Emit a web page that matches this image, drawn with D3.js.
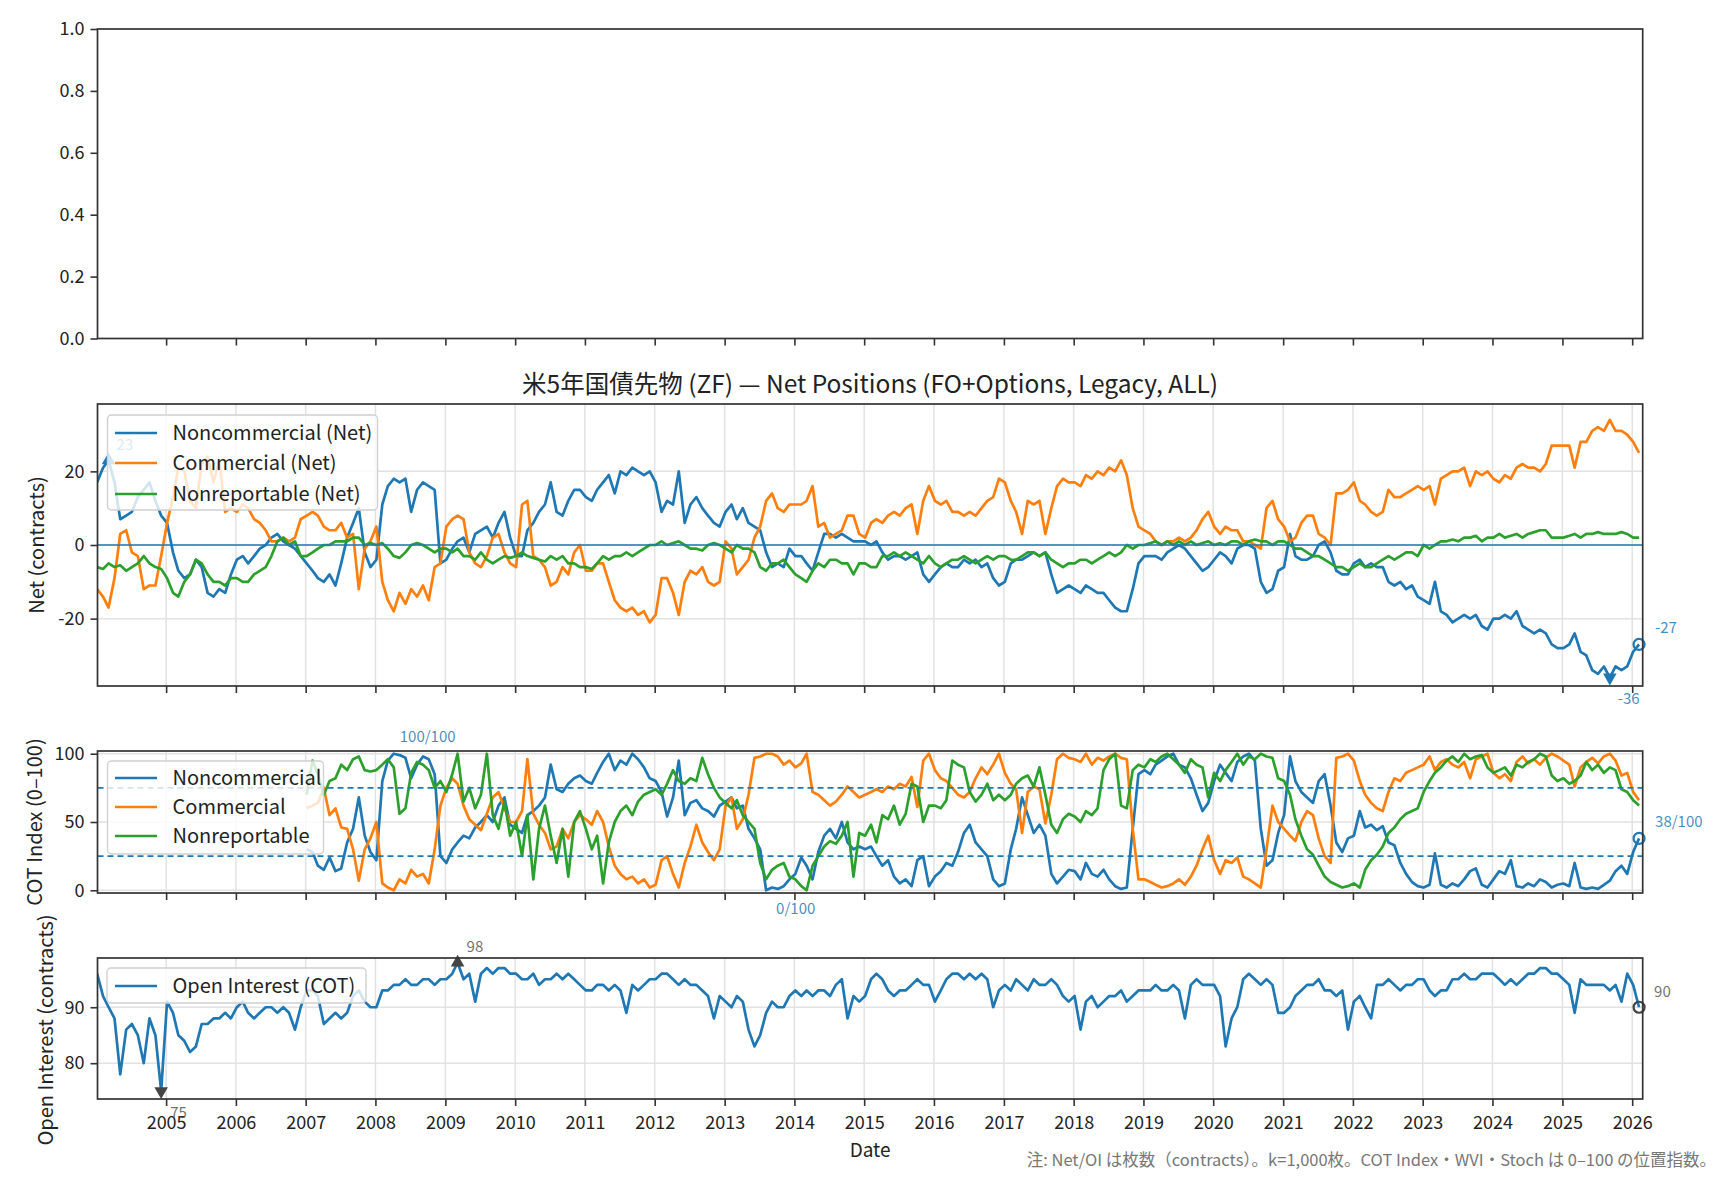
<!DOCTYPE html>
<html>
<head>
<meta charset="utf-8">
<script src="https://cdn.jsdelivr.net/npm/d3@7"></script>
<style>
  body { margin: 0; background: #fff; }
  svg { display: block; }
</style>
</head>
<body>
<script>
// monthly readings, Jan 2004 .. Feb 2026 (thousand contracts)
var nonCommNet = [
  17, 21, 23, 17, 7, 8, 9, 13, 15, 17, 12, 8,
  6, -2, -7, -9, -8, -4, -6, -13, -14, -12, -13, -8,
  -4, -3, -5, -3, -1, 0, 2, 3, 1, 0, -1, -3,
  -5, -7, -9, -10, -8, -11, -5, 2, 6, 10, -2, -6,
  -4, 11, 16, 18, 17, 18, 9, 15, 17, 16, 15, -5,
  -4, -1, 1, 2, -2, 3, 4, 5, 2, 6, 9, 2,
  -3, -3, 4, 6, 9, 11, 17, 9, 8, 12, 15, 15,
  13, 12, 15, 17, 19, 14, 20, 19, 21, 20, 19, 20,
  17, 9, 12, 11, 20, 6, 11, 13, 10, 8, 6, 5,
  9, 11, 7, 10, 6, 5, 4, -2, -6, -5, -6, -1,
  -3, -3, -5, -7, -2, 3, 3, 2, 3, 2, 1, 1,
  1, 0, 1, -2, -4, -3, -3, -4, -3, -2, -8, -10,
  -8, -6, -5, -6, -6, -4, -5, -4, -6, -5, -9, -11,
  -10, -5, -4, -4, -3, -2, -3, -2, -8, -13, -12, -11,
  -12, -13, -11, -12, -13, -13, -15, -17, -18, -18, -12, -5,
  -3, -3, -3, -4, -2, -1, 0, -1, -3, -5, -7, -6,
  -4, -2, -3, -5, -1, 0, 0, -1, -10, -13, -12, -7,
  -6, 3, -3, -4, -4, -3, 0, 1, -2, -7, -8, -8,
  -5, -4, -6, -5, -6, -6, -10, -11, -10, -12, -11, -14,
  -15, -16, -10, -18, -19, -21, -20, -19, -20, -19, -22, -23,
  -20, -20, -19, -20, -18, -22, -23, -24, -23, -24, -27, -28,
  -28, -27, -24, -29, -30, -34, -35, -33, -36, -33, -34, -33,
  -29, -27
];
var commNet = [
  -12, -14, -17, -9, 3, 4, -2, -3, -12, -11, -11, -3,
  6, 13, 21, 20, 12, 10, 22, 24, 17, 23, 9, 10,
  9, 11, 10, 7, 6, 4, 1, 1, 2, 1, 2, 7,
  8, 9, 8, 5, 4, 4, 6, 2, 3, -12, -1, 1,
  5, -10, -15, -18, -13, -16, -12, -14, -11, -15, -6, -5,
  5, 7, 8, 7, -2, -5, -6, -3, 2, 3, -2, -5,
  -6, 11, 12, -3, -4, -6, -11, -10, -6, -8, -2, 0,
  -7, -7, -5, -5, -10, -15, -17, -18, -17, -19, -18, -21,
  -19, -9, -9, -13, -19, -10, -7, -8, -6, -10, -11, -10,
  1, -1, -8, -6, -4, 2, 5, 12, 14, 10, 9, 11,
  11, 11, 12, 16, 5, 6, 2, 3, 4, 8, 8, 3,
  2, 6, 7, 6, 8, 9, 8, 10, 11, 3, 12, 16,
  12, 11, 12, 9, 9, 8, 9, 8, 10, 12, 13, 18,
  17, 12, 9, 3, 12, 11, 12, 3, 10, 16, 18, 17,
  17, 16, 19, 18, 20, 19, 21, 20, 23, 19, 10, 5,
  4, 3, 1, 0, 1, 1, 2, 1, 2, 4, 7, 9,
  5, 3, 5, 4, 4, 1, 1, 0, -1, 10, 12, 7,
  5, 1, 2, 6, 8, 8, 3, 2, 0, 14, 14, 15,
  17, 12, 11, 9, 8, 9, 15, 13, 13, 14, 15, 16,
  15, 16, 11, 18, 19, 20, 20, 21, 16, 20, 19, 20,
  18, 17, 19, 18, 21, 22, 21, 21, 20, 22, 27, 27,
  27, 27, 21, 28, 28, 31, 32, 31, 34, 31, 31, 30,
  28, 25
];
var nonRepNet = [
  -6, -6.5, -5, -6, -5.5, -7, -6, -5, -3, -5, -6, -6.5,
  -9, -13, -14, -10, -8, -4, -5, -8, -10, -10, -11, -9,
  -9, -10, -10, -8, -7, -6, -3, 1, 2, 0, 1, -3,
  -3, -2, -1, 0, 0, 1, 1, 1, 2, 2, 0, 0.5,
  0, 0.5, -1, -3, -3.5, -2, 0, 0.5, 0, -1, -2, -1,
  -1, -2, -1, -3, -3, -4, -2, -4, -5, -4, -3, -3.5,
  -3, -2, -3, -3.5, -4, -4.5, -3, -4, -3, -5, -5, -6,
  -6, -6.5, -5, -3, -4, -3, -3, -2, -3, -2, -1, 0,
  0, 1, 0, 0.5, 1, 0, -1, -1, -1.5, 0, 0.5, 0,
  -1, -2, 0, -1, -1, -2, -6, -7, -5, -5, -4, -6,
  -8, -9, -10, -7, -5, -6, -4, -4, -5, -5, -8, -5,
  -5, -6, -6, -3, -3, -2, -3, -2, -3, -4, -5, -3,
  -5, -6, -5, -4, -4, -3, -4, -5, -4, -3, -4, -3,
  -3, -4, -4, -3, -2, -2, -3, -2, -4, -5, -6, -5,
  -5, -4, -4, -5, -4, -3, -2, -3, -2, 0, -1, 0,
  0, 0.5, 1, 0, 1, 0, 1, 0, 1, 0, 0.5, 1,
  0, 0.5, 0, 1, 1, 0, 1, 1.5, 1, 1, 0, 1,
  1, 0, -1, -1, -2, -3, -3, -4, -5, -6, -6, -7,
  -6, -5, -6, -6, -5, -4, -3, -4, -3, -2, -2, -3,
  0, -1, 0, 1, 1, 1.5, 1, 2, 2, 2.5, 1, 2,
  2, 3, 2, 2.5, 3, 2, 3, 3.5, 4, 4, 2, 2,
  2, 2.5, 3, 2, 3, 3, 3.5, 3, 3, 3, 3.5, 3,
  2, 2
];
var openInterest = [
  96, 92, 90, 88, 78, 86, 87, 85, 80, 88, 85, 75,
  91, 89, 85, 84, 82, 83, 87, 87, 88, 88, 89, 88,
  90, 91, 89, 88, 89, 90, 90, 89, 90, 89, 86, 90,
  93, 93, 92, 87, 88, 89, 88, 89, 92, 93, 91, 90,
  90, 93, 93, 94, 94, 95, 94, 94, 95, 95, 94, 95,
  95, 96, 98, 95, 96, 91, 96, 97, 96, 97, 97, 96,
  96, 95, 95, 96, 94, 95, 95, 96, 95, 96, 95, 94,
  93, 93, 94, 94, 93, 94, 93, 89, 94, 93, 94, 95,
  95, 96, 96, 95, 94, 95, 94, 94, 93, 92, 88, 92,
  91, 90, 92, 91, 86, 83, 85, 89, 91, 90, 90, 92,
  93, 92, 93, 92, 93, 93, 92, 94, 95, 88, 92, 91,
  92, 95, 96, 95, 93, 92, 93, 93, 94, 95, 94, 94,
  91, 93, 95, 96, 96, 95, 96, 95, 96, 95, 90, 93,
  94, 93, 95, 94, 93, 95, 94, 94, 95, 94, 92, 91,
  92, 86, 91, 92, 90, 91, 92, 92, 93, 91, 92, 93,
  93, 93, 94, 93, 93, 94, 93, 88, 94, 95, 94, 94,
  94, 92, 83, 88, 90, 95, 96, 95, 94, 95, 94, 89,
  89, 90, 92, 93, 94, 94, 95, 93, 93, 92, 93, 86,
  91, 92, 90, 88, 94, 94, 95, 94, 93, 94, 94, 95,
  95, 93, 92, 93, 93, 95, 95, 96, 95, 95, 96, 96,
  96, 95, 94, 95, 94, 95, 96, 96, 97, 97, 96, 96,
  95, 94, 89, 95, 94, 94, 94, 94, 93, 94, 91, 96,
  94, 90
];

// COT index (0-100), Jan 2007 .. Feb 2026
var cotNonComm = [
  30, 28, 18, 15, 24, 14, 16, 35, 45, 68, 40, 28,
  22, 80, 95, 100, 99, 97, 82, 92, 98, 96, 85, 25,
  20, 30, 35, 40, 38, 46, 50, 55, 50, 62, 68, 48,
  45, 42, 55, 58, 62, 68, 92, 74, 72, 78, 82, 84,
  80, 78, 86, 94, 100, 88, 95, 92, 100, 96, 90, 82,
  80, 72, 54, 68, 95, 55, 64, 66, 60, 58, 54, 62,
  65, 68, 60, 62, 45, 38, 30, 0, 2, 1, 3, 8,
  12, 24, 18, 8, 28, 40, 45, 38, 50, 35, 30, 32,
  30, 32, 25, 18, 22, 10, 5, 8, 3, 22, 25, 3,
  10, 14, 20, 18, 28, 42, 48, 35, 30, 25, 8, 3,
  5, 30, 45, 68, 55, 42, 48, 40, 12, 5, 10, 15,
  14, 8, 20, 12, 10, 15, 8, 3, 1, 2, 45, 85,
  88, 85, 92, 95, 98, 100, 92, 90, 82, 70, 58, 64,
  80, 92, 86, 80, 94, 98, 100, 95, 45, 18, 22, 42,
  55, 98, 80, 72, 68, 64, 80, 85, 62, 35, 28, 38,
  40, 58, 46, 48, 44, 47, 35, 33, 20, 12, 6, 3,
  2, 4, 27, 4, 2, 5, 3, 8, 14, 16, 4, 2,
  8, 14, 12, 22, 3, 2, 5, 3, 8, 6, 2, 4,
  5, 3, 20, 2, 1, 2, 1, 4, 7, 14, 18, 12,
  28, 38
];
var cotComm = [
  60, 62, 64, 75, 55, 60, 46, 45, 30, 7, 30, 38,
  50, 5, 2, 0, 8, 5, 15, 10, 12, 5, 30, 62,
  75, 82, 78, 62, 52, 48, 44, 56, 68, 72, 60, 50,
  50, 58, 96, 56, 48, 42, 30, 32, 45, 38, 50, 55,
  52, 48, 58, 50, 32, 18, 12, 8, 10, 5, 8, 2,
  4, 22, 25, 12, 2, 20, 32, 48, 35, 28, 22, 30,
  62, 68, 45, 52, 70, 97, 98, 100, 100, 98, 92, 95,
  90, 93, 100, 72, 70, 66, 62, 65, 70, 76, 72, 68,
  70, 72, 74, 72, 76, 74, 78, 76, 83, 61, 95, 100,
  88, 82, 80, 75, 70, 68, 72, 82, 90, 85, 92, 100,
  86, 78, 74, 42, 72, 76, 74, 49, 70, 96, 100, 97,
  96, 94, 100, 92, 97, 95, 98, 100, 97, 96, 45, 8,
  8, 6, 4, 2, 3, 5, 8, 4, 10, 18, 30, 40,
  22, 12, 22, 20, 24, 10, 8, 5, 2, 30, 62, 50,
  45, 40, 36, 50, 58, 55, 38, 25, 20, 97, 98, 100,
  95, 80, 70, 64, 60, 58, 72, 82, 80, 86, 88, 90,
  92, 98, 88, 94, 96, 92, 90, 94, 82, 96, 98, 100,
  86, 82, 85, 80, 94, 98, 93, 96, 92, 97, 100, 98,
  95, 92, 76, 90, 94, 97, 93, 98, 100, 95, 84, 86,
  72, 66
];
var cotNonRep = [
  70, 95, 85, 70, 80, 82, 92, 88, 96, 98, 88, 87,
  88, 92, 96, 90, 56, 60, 86, 94, 92, 88, 75, 80,
  72, 85, 100, 65, 75, 60, 70, 100, 55, 45, 65, 40,
  50, 25, 55, 8, 45, 62, 40, 20, 45, 10, 50, 58,
  45, 30, 40, 5, 35, 50, 58, 62, 55, 65, 70, 72,
  74, 70, 78, 88, 80, 78, 82, 80, 97, 85, 75, 68,
  64, 60, 66, 55, 50, 45, 20, 8, 15, 18, 20, 10,
  8, 3, 0, 18, 25, 32, 36, 34, 40, 50, 10, 42,
  40, 48, 35, 55, 52, 62, 48, 56, 78, 76, 50, 62,
  62, 60, 66, 95, 92, 90, 72, 65, 70, 78, 66, 70,
  66, 70, 78, 82, 84, 76, 90, 70, 48, 42, 52, 56,
  54, 50, 58, 55, 60, 88, 96, 100, 62, 60, 88, 92,
  90, 96, 94, 98, 100, 96, 92, 86, 96, 92, 90, 68,
  86, 80, 88, 94, 100, 92, 98, 96, 100, 98, 97, 82,
  80, 70, 52, 40, 30, 26, 18, 10, 6, 4, 2, 3,
  5, 2, 15, 22, 26, 32, 42, 46, 52, 56, 58, 60,
  72, 80, 86, 90, 95, 98, 94, 100, 96, 98, 99, 90,
  86, 88, 90, 84, 92, 90, 94, 96, 100, 98, 84, 80,
  82, 78, 80, 84, 94, 88, 92, 86, 90, 88, 74, 72,
  66, 62
];

var netLabels = ["Noncommercial (Net)", "Commercial (Net)", "Nonreportable (Net)"];
var cotLabels = ["Noncommercial", "Commercial", "Nonreportable"];
var oiLabel = "Open Interest (COT)";
var colors = ["#1f77b4", "#ff7f0e", "#2ca02c"];

var FONT = '"Noto Sans CJK JP", "Noto Sans", sans-serif';
var w = 1728, h = 1180;
var left = 97.5, right = 1642.7;

var svg = d3.select("body").append("svg")
  .attr("width", w).attr("height", h)
  .attr("font-family", FONT);

var dates = nonCommNet.map(function(d, i) { return new Date(2004, i, 6); });
var cotDates = dates.slice(dates.length - cotNonComm.length);

var x = d3.scaleTime()
  .domain([new Date(2004, 0, 8), new Date(2026, 1, 25)])
  .range([left, right]);
var yearTicks = d3.range(2005, 2027).map(function(y) { return new Date(y, 0, 1); });

// build one panel: grid, axes, clip
function makePanel(id, top, bottom, domain, ticks, fmt, grid, xLabels) {
  var y = d3.scaleLinear().domain(domain).range([bottom, top]);
  var g = svg.append("g");
  svg.append("clipPath").attr("id", id)
    .append("rect").attr("x", left).attr("y", top)
    .attr("width", right - left).attr("height", bottom - top);

  if (grid) {
    g.selectAll(".vg").data(yearTicks).enter().append("line")
      .attr("x1", x).attr("x2", x).attr("y1", top).attr("y2", bottom)
      .attr("stroke", "#e2e2e2").attr("stroke-width", 1.5);
    g.selectAll(".hg").data(ticks).enter().append("line")
      .attr("x1", left).attr("x2", right)
      .attr("y1", function(d) { return y(d); }).attr("y2", function(d) { return y(d); })
      .attr("stroke", "#e2e2e2").attr("stroke-width", 1.5);
  }

  var ya = g.append("g").attr("transform", "translate(" + left + ",0)")
    .call(d3.axisLeft(y).tickValues(ticks).tickFormat(fmt)
      .tickSize(7).tickPadding(6).tickSizeOuter(0));
  var xa = g.append("g").attr("transform", "translate(0," + bottom + ")")
    .call(d3.axisBottom(x).tickValues(yearTicks)
      .tickFormat(xLabels ? d3.timeFormat("%Y") : "")
      .tickSize(7).tickPadding(10).tickSizeOuter(0));
  [ya, xa].forEach(function(a) {
    a.attr("font-family", FONT).attr("font-size", 18);
    a.select(".domain").remove();
    a.selectAll("line").attr("stroke", "#333").attr("stroke-width", 1.6);
    a.selectAll("text").attr("fill", "#222");
  });

  return { y: y, g: g, top: top, bottom: bottom, clip: "url(#" + id + ")" };
}

function frame(p) {
  svg.append("rect").attr("x", left).attr("y", p.top)
    .attr("width", right - left).attr("height", p.bottom - p.top)
    .attr("fill", "none").attr("stroke", "#333").attr("stroke-width", 1.7);
}

function series(p, xs, vals, color) {
  var line = d3.line()
    .x(function(d, i) { return x(xs[i]); })
    .y(function(d) { return p.y(d); });
  p.g.append("path").datum(vals)
    .attr("d", line).attr("clip-path", p.clip)
    .attr("fill", "none").attr("stroke", color)
    .attr("stroke-width", 2.7).attr("stroke-linejoin", "round");
}

function marker(p, xs, vals, i, type, color) {
  var px = x(xs[i]), py = p.y(vals[i]);
  if (type === "o") {
    p.g.append("circle").attr("cx", px).attr("cy", py).attr("r", 5.5)
      .attr("fill", "none").attr("stroke", color).attr("stroke-width", 2.2);
  } else {
    p.g.append("path")
      .attr("d", d3.symbol(d3.symbolTriangle, 80)())
      .attr("transform", "translate(" + px + "," + py + ")" + (type === "v" ? " rotate(180)" : ""))
      .attr("fill", color);
  }
}

function note(p, xs, vals, i, dx, dy, txt, color) {
  p.g.append("text")
    .attr("x", x(xs[i]) + dx).attr("y", p.y(vals[i]) + dy)
    .attr("dominant-baseline", "central")
    .attr("font-size", 15).attr("fill", color).attr("fill-opacity", 0.85)
    .text(txt);
}

function legend(p, x0, y0, bw, bh, rows, labels, cols) {
  var lg = p.g.append("g");
  lg.append("rect").attr("x", x0).attr("y", y0).attr("width", bw).attr("height", bh)
    .attr("rx", 4).attr("fill", "#fff").attr("fill-opacity", 0.8)
    .attr("stroke", "#d0d0d0").attr("stroke-width", 1.4);
  labels.forEach(function(t, i) {
    lg.append("line").attr("x1", 115).attr("x2", 157).attr("y1", rows[i]).attr("y2", rows[i])
      .attr("stroke", cols[i]).attr("stroke-width", 2.7);
    lg.append("text").attr("x", 172.5).attr("y", rows[i] + 7)
      .attr("font-size", 20).attr("fill", "#222").text(t);
  });
}

var plain = function(d) { return String(d); };

// 1) empty top panel
var p1 = makePanel("c1", 29, 338.5, [0, 1], d3.range(0, 1.01, 0.2), d3.format(".1f"), false, false);
frame(p1);

// 2) net positions
var p2 = makePanel("c2", 404, 686, [-38.3, 38.3], [-20, 0, 20], plain, true, false);
series(p2, dates, nonCommNet, colors[0]);
series(p2, dates, commNet, colors[1]);
series(p2, dates, nonRepNet, colors[2]);
p2.g.append("line").attr("x1", left).attr("x2", right)
  .attr("y1", p2.y(0)).attr("y2", p2.y(0))
  .attr("stroke", colors[0]).attr("stroke-width", 1.6);
var nMax = d3.maxIndex(nonCommNet), nMin = d3.minIndex(nonCommNet), nLast = nonCommNet.length - 1;
marker(p2, dates, nonCommNet, nMax, "^", colors[0]);
marker(p2, dates, nonCommNet, nMin, "v", colors[0]);
marker(p2, dates, nonCommNet, nLast, "o", colors[0]);
note(p2, dates, nonCommNet, nMax, 8, -17, String(nonCommNet[nMax]), colors[0]);
note(p2, dates, nonCommNet, nMin, 8, 20, String(nonCommNet[nMin]), colors[0]);
note(p2, dates, nonCommNet, nLast, 16, -18, String(nonCommNet[nLast]), colors[0]);
legend(p2, 107.5, 415, 270, 95, [433, 463, 494], netLabels, colors);
frame(p2);
svg.append("text").attr("x", (left + right) / 2).attr("y", 393)
  .attr("text-anchor", "middle").attr("font-size", 24.5).attr("fill", "#222")
  .text("米5年国債先物 (ZF) — Net Positions (FO+Options, Legacy, ALL)");

// 3) COT index
var p3 = makePanel("c3", 751, 893, [-2, 102], [0, 50, 100], plain, true, false);
series(p3, cotDates, cotNonComm, colors[0]);
series(p3, cotDates, cotComm, colors[1]);
series(p3, cotDates, cotNonRep, colors[2]);
[75, 25].forEach(function(v) {
  p3.g.append("line").attr("x1", left).attr("x2", right)
    .attr("y1", p3.y(v)).attr("y2", p3.y(v))
    .attr("stroke", colors[0]).attr("stroke-width", 1.6).attr("stroke-dasharray", "6,4");
});
var cMax = d3.maxIndex(cotNonComm), cMin = d3.minIndex(cotNonComm), cLast = cotNonComm.length - 1;
marker(p3, cotDates, cotNonComm, cLast, "o", colors[0]);
note(p3, cotDates, cotNonComm, cMax, 6, -18, cotNonComm[cMax] + "/100", colors[0]);
note(p3, cotDates, cotNonComm, cMin, 10, 17, cotNonComm[cMin] + "/100", colors[0]);
note(p3, cotDates, cotNonComm, cLast, 16, -18, cotNonComm[cLast] + "/100", colors[0]);
legend(p3, 107.5, 761, 216, 93, [778, 807, 836], cotLabels, colors);
frame(p3);

// 4) open interest
var p4 = makePanel("c4", 958, 1099, [73.6, 98.8], [80, 90], plain, true, true);
series(p4, dates, openInterest, colors[0]);
var oMax = d3.maxIndex(openInterest), oMin = d3.minIndex(openInterest), oLast = openInterest.length - 1;
marker(p4, dates, openInterest, oMax, "^", "#444");
marker(p4, dates, openInterest, oMin, "v", "#444");
marker(p4, dates, openInterest, oLast, "o", "#444");
note(p4, dates, openInterest, oMax, 9, -17, String(openInterest[oMax]), "#555");
note(p4, dates, openInterest, oMin, 9, 20, String(openInterest[oMin]), "#555");
note(p4, dates, openInterest, oLast, 15, -17, String(openInterest[oLast]), "#555");
legend(p4, 107, 968, 259, 35, [986], [oiLabel], [colors[0]]);
frame(p4);

// axis titles and footnote
function yTitle(cx, cy, t) {
  svg.append("text").attr("transform", "translate(" + cx + "," + cy + ") rotate(-90)")
    .attr("text-anchor", "middle").attr("dominant-baseline", "central")
    .attr("font-size", 20).attr("fill", "#222").text(t);
}
yTitle(35, 545, "Net (contracts)");
yTitle(33, 822, "COT Index (0–100)");
yTitle(44, 1030, "Open Interest (contracts)");

svg.append("text").attr("x", (left + right) / 2).attr("y", 1157)
  .attr("text-anchor", "middle").attr("font-size", 19).attr("fill", "#222").text("Date");
svg.append("text").attr("x", 1716).attr("y", 1166)
  .attr("text-anchor", "end").attr("font-size", 16.5).attr("fill", "#777")
  .text("注: Net/OI は枚数（contracts）。k=1,000枚。COT Index・WVI・Stoch は 0–100 の位置指数。");
</script>
</body>
</html>
